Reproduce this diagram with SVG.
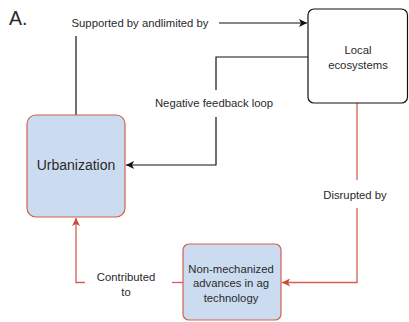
<svg xmlns="http://www.w3.org/2000/svg" width="409" height="322" viewBox="0 0 409 322">
<defs>
<marker id="ab" markerWidth="10" markerHeight="10" refX="9" refY="5" orient="auto" markerUnits="userSpaceOnUse"><path d="M1,1 L9,5 L1,9 L3,5 Z" fill="#111"/></marker>
<marker id="ar" markerWidth="10" markerHeight="10" refX="9" refY="5" orient="auto" markerUnits="userSpaceOnUse"><path d="M1,1 L9,5 L1,9 L3,5 Z" fill="#cc4a3a"/></marker>
</defs>
<style>
text{font-family:"Liberation Sans",Arial,sans-serif;fill:#2a2a2a;}
.lbl{font-size:11.3px;text-anchor:middle;}
.blk{fill:none;stroke:#111;stroke-width:1.2;}
.red{fill:none;stroke:#d0604f;stroke-width:1.3;}
.blue{fill:#ccdcf0;stroke:#d0604f;stroke-width:1.2;}
</style>
<rect width="409" height="322" fill="#fff"/>
<text x="9" y="25" style="font-size:19.5px">A.</text>
<g id="connectors">
<path class="blk" d="M76,115 V36"/>
<text class="lbl" x="140" y="27">Supported by andlimited by</text>
<path class="blk" d="M219,23 H307" marker-end="url(#ab)"/>
<path class="blk" d="M308,57 H216 V90"/>
<text class="lbl" x="214" y="107">Negative feedback loop</text>
<path class="blk" d="M216,117 V165 H126" marker-end="url(#ab)"/>
<path class="red" d="M357,103 V180"/>
<text class="lbl" x="355" y="199">Disrupted by</text>
<path class="red" d="M357,208 V282.5 H282" marker-end="url(#ar)"/>
<path class="red" d="M183,282.5 H172"/>
<text class="lbl" x="126" y="281">Contributed</text>
<text class="lbl" x="126" y="296">to</text>
<path class="red" d="M85,282.5 H76 V218" marker-end="url(#ar)"/>
</g>
<g id="local-ecosystems">
<rect x="308" y="9" width="99.5" height="94" rx="6" fill="#fff" stroke="#111" stroke-width="1.2"/>
<text class="lbl" x="358" y="54">Local</text>
<text class="lbl" x="358" y="69">ecosystems</text>
</g>
<g id="urbanization">
<rect class="blue" x="27" y="115" width="98" height="102" rx="9"/>
<text x="76" y="170" style="font-size:14px;text-anchor:middle">Urbanization</text>
</g>
<g id="non-mechanized">
<rect class="blue" x="183" y="244" width="98" height="76" rx="6"/>
<text class="lbl" x="231" y="273">Non-mechanized</text>
<text class="lbl" x="231" y="287">advances in ag</text>
<text class="lbl" x="231" y="302">technology</text>
</g>
</svg>
